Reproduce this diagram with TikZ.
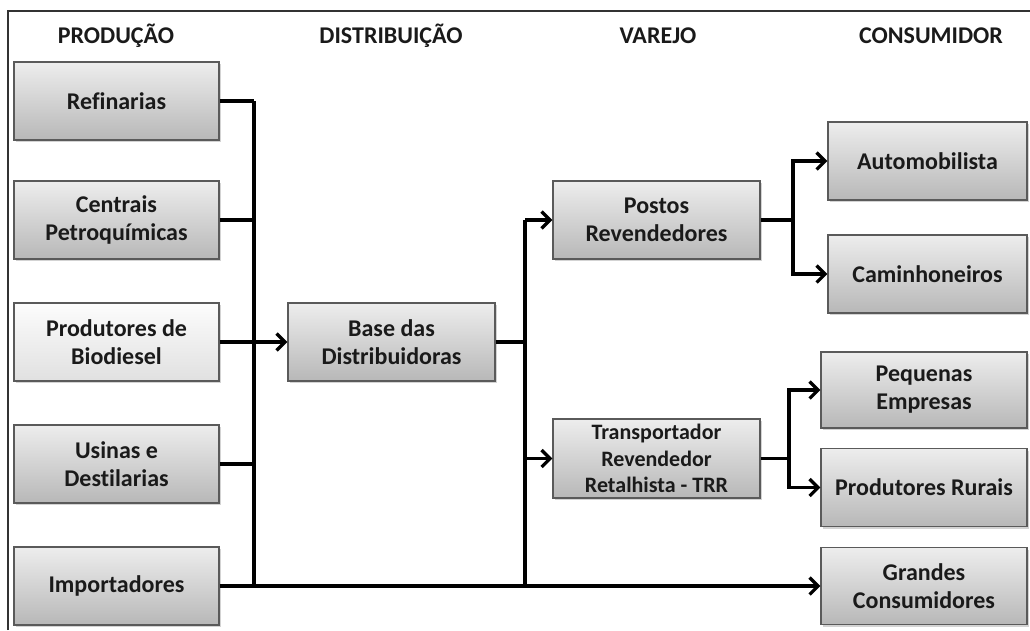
\documentclass[tikz,border=0pt]{standalone}
\usepackage{fontspec}
\setmainfont[Ligatures=NoCommon]{Carlito}
\usetikzlibrary{arrows.meta,shadows}
\definecolor{txt}{HTML}{1A1A1A}
\definecolor{bordc}{HTML}{5A5A5A}
\tikzset{
  box/.style={draw=bordc, line width=1.2pt, top color=white!93!black, bottom color=white!72!black,
    minimum height=78pt, align=center, font=\bfseries\fontsize{24}{28}\selectfont, text=txt,
    inner sep=2pt, drop shadow={shadow xshift=1.5pt, shadow yshift=-2pt, opacity=0.35}},
  lightbox/.style={box, top color=white!99!black, bottom color=white!88!black},
  head/.style={font=\bfseries\fontsize{24}{28}\selectfont, text=txt},
  conn/.style={line width=3.3pt, black, line join=miter},
  arr/.style={conn, -{Straight Barb[length=8.5pt,width=17pt]}},
}
\begin{document}
\begin{tikzpicture}[x=1pt,y=-1pt]
\useasboundingbox (0,0) rectangle (1030,630);
\draw[line width=1.3pt, black!80] (8,630) -- (8,11) -- (1030,11);

\node[head] (h1) at (116,36) {PRODUÇÃO};
\node[head] (h2) at (391,36) {DISTRIBUIÇÃO};
\node[head] (h3) at (658,36) {VAREJO};
\node[head] (h4) at (931,36) {CONSUMIDOR};

\node[box, minimum width=205pt] (ref) at (116.5,101) {Refinarias};
\node[box, minimum width=205pt] (cen) at (116.5,220) {Centrais\\Petroquímicas};
\node[lightbox, minimum width=205pt] (bio) at (116.5,342) {Produtores de\\Biodiesel};
\node[box, minimum width=205pt] (usi) at (116.5,464) {Usinas e\\Destilarias};
\node[box, minimum width=205pt] (imp) at (116.5,586) {Importadores};

\node[box, minimum width=207pt] (base) at (391.5,342) {Base das\\Distribuidoras};

\node[box, minimum width=207pt] (pos) at (656.5,220) {Postos\\Revendedores};
\node[box, minimum width=207pt, minimum height=79pt, font=\bfseries\fontsize{22}{26.5}\selectfont] (trr) at (656.5,458.5) {Transportador\\Revendedor\\Retalhista - TRR};

\node[box, minimum width=199pt] (aut) at (927.5,161) {Automobilista};
\node[box, minimum width=199pt] (cam) at (927.5,274) {Caminhoneiros};
\node[box, minimum width=206pt, minimum height=76pt] (peq) at (924,390) {Pequenas\\Empresas};
\node[box, minimum width=206pt] (pro) at (924,487.5) {Produtores Rurais};
\node[box, minimum width=206pt, minimum height=77pt] (gra) at (924,586) {Grandes\\Consumidores};

\coordinate (b1) at (254,0);
\coordinate (b2) at (525,0);
\coordinate (b3) at (793,0);
\coordinate (b4) at (789,0);

% production bus
\draw[conn] (ref.east) -- (ref.east -| b1);
\draw[conn] (cen.east) -- (cen.east -| b1);
\draw[conn] (usi.east) -- (usi.east -| b1);
\draw[conn] (ref.east -| b1) -- (imp.east -| b1);
\draw[arr] (bio.east) -- (base.west);
\draw[arr] (imp.east) -- (gra.west);

% distribution bus
\draw[conn] (base.east) -- (base.east -| b2);
\draw[conn] (pos.west -| b2) -- (imp.east -| b2);
\draw[arr] (pos.west -| b2) -- (pos.west);
\draw[arr] (trr.west -| b2) -- (trr.west);

% retail to consumers
\draw[conn] (pos.east) -- (pos.east -| b3);
\draw[arr] (pos.east -| b3) |- (aut.west);
\draw[arr] (pos.east -| b3) |- (cam.west);
\draw[conn] (trr.east) -- (trr.east -| b4);
\draw[arr] (trr.east -| b4) |- (peq.west);
\draw[arr] (trr.east -| b4) |- (pro.west);
\end{tikzpicture}
\end{document}
